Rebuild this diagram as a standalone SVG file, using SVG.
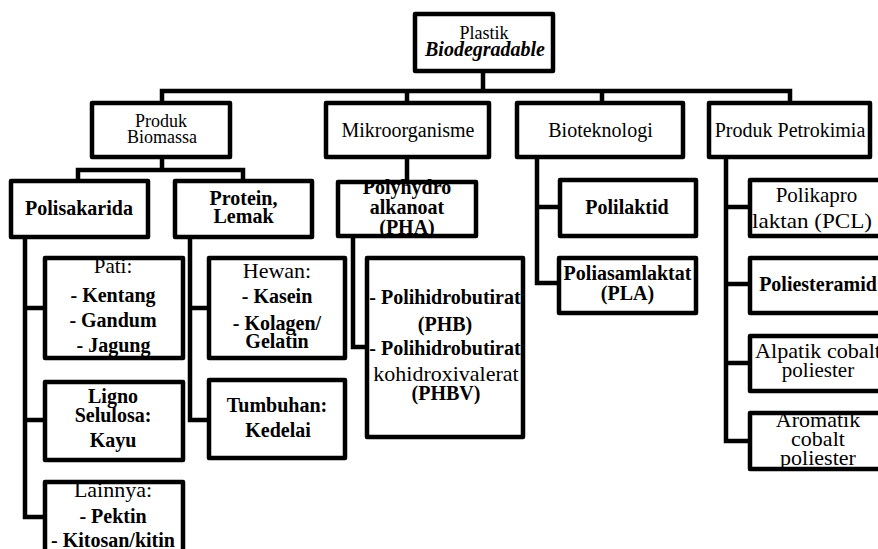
<svg xmlns="http://www.w3.org/2000/svg" width="878" height="549" viewBox="0 0 878 549">
<style>
.bg{fill:#fff;stroke:none}
.bx{fill:none;stroke:#000;stroke-width:4.5;stroke-linejoin:round}
.ln{fill:none;stroke:#000;stroke-width:4.5;stroke-linejoin:miter;stroke-linecap:square}
.t{font-family:'Liberation Serif','Times New Roman','DejaVu Serif',serif;font-size:20px;text-anchor:middle;fill:#000}
.b{font-weight:bold}
.s18{font-size:18px}
.s21{font-size:21px}
.s22{font-size:22px}
.bi{font-weight:bold;font-style:italic}
</style>
<rect width="878" height="549" fill="#fff"/>
<g id="connectors">
<path class="ln" d="M483,71V91M162,91H790M162,91V103M407,91V103M602,91V103M790,91V103"/>
<path class="ln" d="M162,157V170M78,170H243M78,170V181M243,170V181"/>
<path class="ln" d="M407,157V182"/>
<path class="ln" d="M25,237V517H45M25,308H45M25,420H45"/>
<path class="ln" d="M190,237V420H209M190,308H209"/>
<path class="ln" d="M353,236V347H367"/>
<path class="ln" d="M537,157V283H559M537,207H560"/>
<path class="ln" d="M726,157V441H750M726,207H750M726,284H750M726,363H750"/>
</g>
<g id="root" class="t">
<rect class="bg" x="415" y="14" width="138" height="57"/>
<text class="s18" x="484" y="39">Plastik</text>
<text class="bi" x="485" y="56">Biodegradable</text>
<rect class="bx" x="415" y="14" width="138" height="57"/>
</g>
<g id="produk-biomassa" class="t">
<rect class="bg" x="92" y="103" width="138" height="54"/>
<text class="s18" x="161" y="127">Produk</text>
<text class="s18" x="162" y="143">Biomassa</text>
<rect class="bx" x="92" y="103" width="138" height="54"/>
</g>
<g id="mikroorganisme" class="t">
<rect class="bg" x="326" y="103" width="163" height="54"/>
<text x="408" y="137">Mikroorganisme</text>
<rect class="bx" x="326" y="103" width="163" height="54"/>
</g>
<g id="bioteknologi" class="t">
<rect class="bg" x="517" y="103" width="166" height="54"/>
<text x="600.5" y="137">Bioteknologi</text>
<rect class="bx" x="517" y="103" width="166" height="54"/>
</g>
<g id="produk-petrokimia" class="t">
<rect class="bg" x="709" y="103" width="161" height="54"/>
<text x="790" y="137">Produk Petrokimia</text>
<rect class="bx" x="709" y="103" width="161" height="54"/>
</g>
<g id="polisakarida" class="t">
<rect class="bg" x="11" y="181" width="137" height="56"/>
<text class="b" x="79" y="215">Polisakarida</text>
<rect class="bx" x="11" y="181" width="137" height="56"/>
</g>
<g id="protein-lemak" class="t">
<rect class="bg" x="175" y="181" width="137" height="56"/>
<text class="b" x="243.5" y="205">Protein,</text>
<text class="b" x="243.5" y="223">Lemak</text>
<rect class="bx" x="175" y="181" width="137" height="56"/>
</g>
<g id="pha" class="t">
<rect class="bg" x="338" y="182" width="138" height="54"/>
<text class="b" x="407" y="194">Polyhydro</text>
<text class="b" x="407" y="214">alkanoat</text>
<text class="b" x="407" y="234">(PHA)</text>
<rect class="bx" x="338" y="182" width="138" height="54"/>
</g>
<g id="polilaktid" class="t">
<rect class="bg" x="560" y="180" width="136" height="56"/>
<text class="b" x="627" y="214">Polilaktid</text>
<rect class="bx" x="560" y="180" width="136" height="56"/>
</g>
<g id="polikapro" class="t">
<rect class="bg" x="750" y="180" width="134" height="56"/>
<text class="s21" x="816.5" y="202">Polikapro</text>
<text class="s21" x="812" y="228" textLength="120" lengthAdjust="spacingAndGlyphs">laktan (PCL)</text>
<rect class="bx" x="750" y="180" width="134" height="56"/>
</g>
<g id="pati" class="t">
<rect class="bg" x="45" y="258" width="138" height="100"/>
<text class="s21" x="113" y="273">Pati:</text>
<text class="b" x="113" y="302">- Kentang</text>
<text class="b" x="113" y="327">- Gandum</text>
<text class="b" x="113.5" y="352">- Jagung</text>
<rect class="bx" x="45" y="258" width="138" height="100"/>
</g>
<g id="ligno" class="t">
<rect class="bg" x="45" y="382" width="138" height="78"/>
<text class="b" x="113" y="403">Ligno</text>
<text class="b" x="113" y="422">Selulosa:</text>
<text class="b" x="113" y="447">Kayu</text>
<rect class="bx" x="45" y="382" width="138" height="78"/>
</g>
<g id="lainnya" class="t">
<rect class="bg" x="45" y="482" width="138" height="80"/>
<text class="s22" x="113" y="497">Lainnya:</text>
<text class="b" x="113" y="523">- Pektin</text>
<text class="b" x="113" y="547">- Kitosan/kitin</text>
<rect class="bx" x="45" y="482" width="138" height="80"/>
</g>
<g id="hewan" class="t">
<rect class="bg" x="209" y="258" width="136" height="100"/>
<text class="s22" x="277" y="278">Hewan:</text>
<text class="b" x="277" y="303">- Kasein</text>
<text class="b" x="277" y="330">- Kolagen/</text>
<text class="b" x="277" y="348">Gelatin</text>
<rect class="bx" x="209" y="258" width="136" height="100"/>
</g>
<g id="tumbuhan" class="t">
<rect class="bg" x="209" y="380" width="136" height="78"/>
<text class="b" x="277" y="412">Tumbuhan:</text>
<text class="b" x="278" y="437">Kedelai</text>
<rect class="bx" x="209" y="380" width="136" height="78"/>
</g>
<g id="phb" class="t">
<rect class="bg" x="367" y="258" width="156" height="179"/>
<text class="b" x="445" y="304">- Polihidrobutirat</text>
<text class="b" x="445" y="331">(PHB)</text>
<text class="b" x="445" y="355">- Polihidrobutirat</text>
<text class="s22" x="446" y="381">kohidroxivalerat</text>
<text class="b" x="446" y="400">(PHBV)</text>
<rect class="bx" x="367" y="258" width="156" height="179"/>
</g>
<g id="pla" class="t">
<rect class="bg" x="559" y="258" width="137" height="55"/>
<text class="b" x="627.5" y="280">Poliasamlaktat</text>
<text class="b" x="627.5" y="300">(PLA)</text>
<rect class="bx" x="559" y="258" width="137" height="55"/>
</g>
<g id="poliesteramid" class="t">
<rect class="bg" x="750" y="258" width="134" height="55"/>
<text class="b" x="818" y="291">Poliesteramid</text>
<rect class="bx" x="750" y="258" width="134" height="55"/>
</g>
<g id="alpatik" class="t">
<rect class="bg" x="750" y="336" width="134" height="55"/>
<text class="s21" x="818" y="358" textLength="126" lengthAdjust="spacingAndGlyphs">Alpatik cobalt</text>
<text class="s21" x="818" y="377">poliester</text>
<rect class="bx" x="750" y="336" width="134" height="55"/>
</g>
<g id="aromatik" class="t">
<rect class="bg" x="750" y="413" width="134" height="56"/>
<text class="s22" x="818" y="427">Aromatik</text>
<text class="s22" x="818" y="446">cobalt</text>
<text class="s22" x="818" y="465">poliester</text>
<rect class="bx" x="750" y="413" width="134" height="56"/>
</g>
</svg>
